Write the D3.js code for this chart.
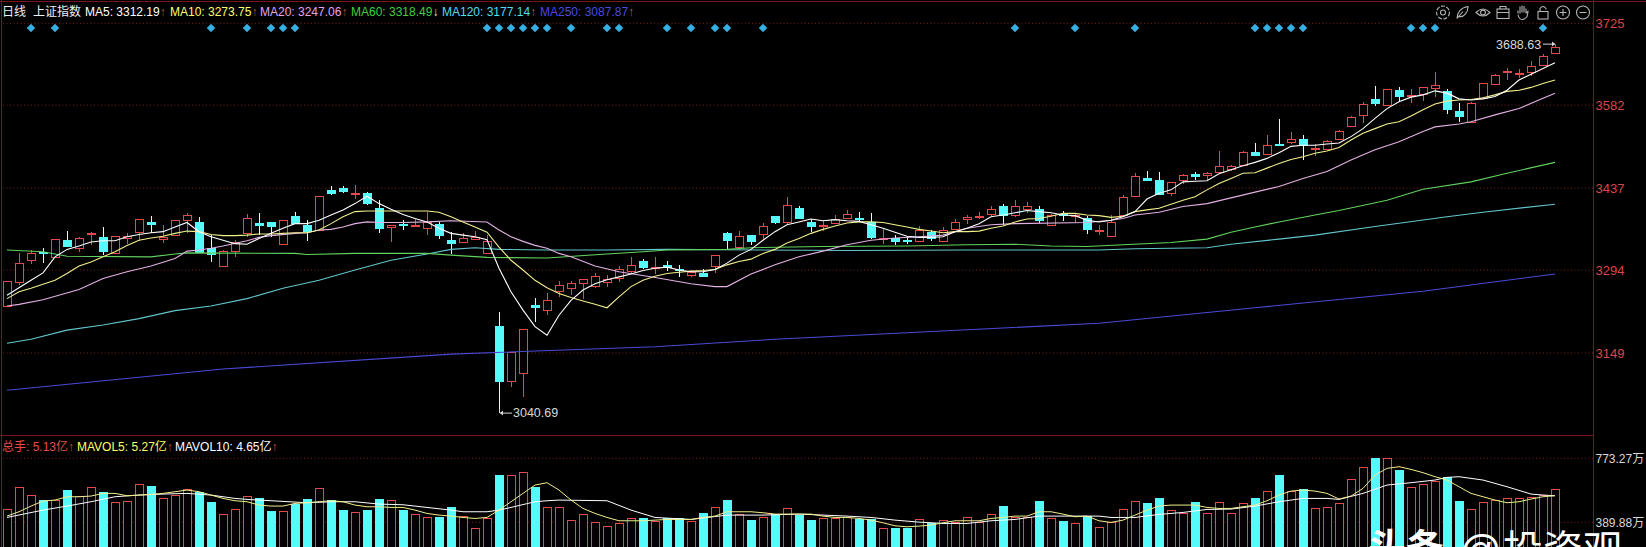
<!DOCTYPE html>
<html><head><meta charset="utf-8">
<script src="https://cdn.jsdelivr.net/npm/d3@7/dist/d3.min.js"></script>
<style>
html,body{margin:0;padding:0;background:#000;overflow:hidden}
svg{display:block;font-family:"Liberation Sans",Arial,"Noto Sans CJK SC",sans-serif}
</style></head><body>
<script>
// ---------- data ----------
const open=[3231,3274,3311,3326,3316,3346,3333,3358,3352,3325,
3350,3361,3378,3347,3356,3381,3377,3332,3302,3328,
3358,3376,3377,3340,3388,3373,3364,3434,3438,3428,
3428,3403,3368,3374,3371,3367,3374,3346,3343,3348,
3323,3196,3099,3114,3232,3224,3256,3263,3271,3266,
3274,3280,3293,3310,3298,3302,3295,3285,3288,3300,
3358,3334,3355,3357,3388,3378,3402,3377,3370,3376,
3384,3384,3377,3348,3350,3346,3344,3361,3344,3366,
3382,3387,3392,3405,3390,3400,3400,3372,3391,3389,
3385,3363,3353,3390,3424,3455,3452,3427,3451,3461,
3460,3464,3470,3479,3501,3496,3514,3516,3522,3505,
3505,3523,3547,3565,3592,3582,3608,3598,3600,3612,
3607,3572,3552,3593,3620,3641,3637,3641,3653,3672];
const high=[3274,3324,3329,3332,3348,3362,3352,3360,3370,3354,
3359,3383,3389,3372,3382,3393,3387,3355,3329,3346,
3391,3394,3378,3382,3396,3381,3423,3440,3440,3442,
3430,3416,3372,3382,3384,3396,3378,3361,3358,3362,
3355,3221,3150,3191,3245,3253,3275,3275,3278,3289,
3285,3301,3316,3314,3316,3309,3303,3294,3295,3320,
3360,3362,3356,3376,3388,3421,3406,3383,3380,3390,
3398,3395,3393,3365,3355,3353,3371,3364,3369,3383,
3390,3395,3405,3409,3417,3412,3405,3391,3397,3393,
3388,3373,3390,3425,3463,3467,3465,3448,3462,3465,
3466,3502,3478,3502,3516,3530,3558,3535,3530,3514,
3521,3539,3563,3588,3615,3611,3613,3610,3614,3640,
3610,3585,3587,3620,3637,3647,3646,3659,3672,3688.63];
const low=[3231,3268,3304,3307,3316,3334,3326,3337,3320,3325,
3340,3345,3358,3341,3355,3358,3323,3308,3301,3316,
3352,3355,3351,3337,3374,3344,3362,3425,3428,3418,
3407,3358,3343,3364,3369,3355,3348,3322,3342,3346,
3322,3044,3089,3073,3204,3216,3247,3250,3243,3262,
3265,3273,3288,3295,3287,3293,3282,3281,3281,3289,
3331,3331,3338,3348,3374,3373,3383,3360,3363,3374,
3383,3377,3349,3339,3337,3339,3343,3345,3343,3364,
3374,3383,3388,3372,3387,3393,3376,3371,3380,3376,
3357,3355,3352,3388,3423,3449,3425,3424,3444,3451,
3451,3462,3467,3477,3493,3495,3511,3515,3486,3493,
3504,3521,3546,3551,3581,3580,3588,3585,3589,3597,
3566,3553,3551,3592,3618,3626,3629,3633,3651,3671];
const close=[3274,3307,3324,3324,3348,3336,3350,3359,3328,3354,
3354,3383,3375,3351,3382,3390,3324,3321,3328,3343,
3384,3373,3370,3382,3376,3362,3423,3429,3433,3429,
3411,3368,3372,3372,3372,3378,3355,3340,3350,3352,
3344,3100,3150,3191,3229,3242,3267,3271,3278,3284,
3279,3295,3303,3299,3299,3298,3294,3291,3282,3320,
3345,3354,3345,3371,3378,3407,3384,3370,3372,3383,
3391,3383,3351,3350,3344,3345,3364,3351,3364,3378,
3386,3388,3401,3390,3405,3405,3380,3390,3390,3390,
3366,3364,3378,3422,3459,3451,3427,3447,3460,3458,
3464,3475,3476,3501,3495,3512,3512,3522,3511,3507,
3519,3537,3562,3584,3585,3610,3597,3599,3613,3618,
3576,3564,3586,3620,3635,3642,3638,3651,3668,3683];
const ma5=[3250,3263,3276,3289,3317,3330,3336,3343,3345,3345,
3352,3356,3359,3361,3369,3377,3361,3352,3346,3340,
3339,3349,3358,3367,3375,3375,3381,3390,3399,3410,
3423,3410,3400,3391,3384,3378,3367,3358,3355,3352,
3347,3297,3256,3224,3195,3180,3215,3241,3259,3270,
3277,3282,3287,3293,3297,3299,3294,3291,3291,3295,
3306,3320,3330,3346,3361,3373,3378,3383,3380,3382,
3380,3379,3373,3367,3360,3353,3351,3351,3352,3361,
3367,3375,3387,3390,3394,3398,3396,3394,3390,3389,
3381,3378,3381,3387,3396,3418,3428,3434,3448,3449,
3450,3462,3469,3476,3482,3489,3499,3510,3512,3512,
3514,3516,3527,3541,3559,3576,3588,3596,3600,3607,
3603,3593,3591,3593,3597,3608,3626,3636,3646,3656];
const ma10=[3244,3256,3262,3269,3276,3288,3301,3308,3317,3326,
3337,3346,3350,3353,3358,3362,3361,3356,3354,3354,
3355,3357,3357,3358,3359,3359,3364,3375,3387,3396,
3397,3397,3397,3397,3397,3397,3395,3387,3378,3369,
3360,3334,3311,3294,3276,3263,3253,3246,3240,3234,
3228,3247,3265,3276,3283,3288,3290,3292,3293,3295,
3303,3309,3313,3323,3330,3341,3349,3358,3365,3371,
3376,3378,3378,3377,3373,3369,3365,3362,3359,3361,
3361,3362,3367,3371,3378,3383,3384,3388,3393,3393,
3390,3389,3386,3388,3396,3399,3402,3409,3416,3422,
3434,3445,3454,3463,3464,3472,3480,3487,3492,3498,
3502,3508,3521,3533,3541,3549,3553,3563,3574,3584,
3589,3591,3592,3595,3600,3606,3608,3613,3620,3626];
const ma20Days=[0,1,3,6,8,10,12,14,15,16,17,18,20,21,22,24,25,26,27,28,29,30,31,33,35,37,40,41,42,43,44,45,46,47,49,51,54,57,59,60,62,64,66,68,70,72,74,76,78,80,82,84,90,92,93,94,96,98,100,102,104,106,108,110,112,114,116,118,119,121,122,124,126,128,129];
const ma20=[3231,3234,3242,3260,3279,3291,3301,3314,3327,3329,3332,3336,3345,3351,3354,3358,3359,3364,3365,3369,3375,3378,3377,3377,3378,3380,3378,3364,3352,3344,3337,3332,3323,3317,3301,3291,3281,3270,3265,3265,3287,3303,3317,3327,3338,3346,3350,3352,3355,3367,3373,3375,3377,3381,3384,3390,3395,3405,3410,3420,3430,3440,3454,3466,3486,3504,3518,3536,3544,3549,3553,3565,3576,3594,3603];
const ma60Days=[0,3,4,5,12,14,15,24,25,29,35,37,40,45,50,53,55,60,62,68,75,80,84,87,90,93,97,100,102,104,106,109,111,115,118,122,125,129];
const ma60=[3329,3326,3322,3318,3317,3322,3324,3323,3321,3323,3323,3320,3316,3315,3322,3326,3329,3330,3333,3335,3336,3338,3339,3336,3335,3338,3342,3348,3360,3369,3378,3390,3398,3416,3435,3448,3463,3482];
const ma120Days=[0,2,5,8,11,14,17,20,23,26,29,32,35,37,39,41,45,50,55,70,80,91,94,100,102,106,109,114,120,123,129];
const ma120=[3166,3173,3189,3198,3209,3223,3231,3244,3262,3276,3294,3311,3322,3330,3333,3330,3329,3329,3330,3328,3329,3329,3331,3333,3339,3348,3355,3370,3387,3395,3409];
const ma250Days=[0,18,37,54,64,91,104,118,129];
const ma250=[3084,3121,3147,3160,3173,3201,3228,3257,3287];
const volume=[467,603,553,523,523,583,547,599,573,509,
517,619,607,533,553,587,573,509,437,467,
547,533,457,457,499,527,593,523,463,449,
463,527,523,463,437,423,419,483,427,357,
413,673,673,693,603,483,483,403,439,389,
365,385,413,417,399,413,417,397,443,483,
523,437,403,419,439,475,433,403,413,413,
419,407,407,353,353,353,407,383,403,393,
419,393,437,489,419,419,517,413,397,383,
427,359,393,469,515,503,533,463,443,509,
443,509,443,503,533,575,673,579,587,473,
483,503,647,723,777,773,703,599,617,639,
663,517,467,509,523,537,533,543,553,587];
const mavol5=[427,453,487,517,523,543,543,547,563,563,
549,553,557,563,573,583,573,553,533,519,
513,493,487,487,503,507,513,519,513,493,
483,483,479,479,463,443,433,427,419,413,
419,463,513,563,613,627,583,523,473,443,
419,399,399,399,403,407,407,407,419,427,
453,453,453,447,439,439,439,439,427,419,
419,413,403,387,369,363,367,373,387,399,
399,399,413,419,427,427,453,453,439,423,
427,399,389,403,433,463,487,493,493,493,
479,473,473,483,493,519,553,577,583,577,
563,529,547,593,673,713,723,707,687,663,
643,603,563,543,523,507,513,529,543,549];
const mavol10Days=[0,3,5,7,9,11,13,15,17,19,20,22,25,27,29,31,33,35,37,38,40,41,42,44,45,46,50,52,54,57,60,63,66,70,72,74,76,78,80,82,84,86,90,91,92,94,96,98,100,102,104,106,108,110,111,113,115,117,119,120,121,123,125,127,128,129];
const mavol10=[419,463,487,513,543,553,559,563,553,533,527,519,507,513,513,499,495,479,463,453,453,463,479,513,519,523,519,463,419,407,433,433,439,427,419,403,391,383,383,399,407,427,427,427,419,419,437,449,467,469,487,513,533,533,527,563,613,627,643,659,663,643,603,559,553,549];
const signalDays=[2,4,17,20,22,23,24,40,41,42,43,44,45,47,50,51,55,57,59,60,63,84,89,94,104,105,106,107,108,117,118,119,128];
const priceTicks=[3725,3582,3437,3294,3149];
const volumeTicks=[773.27,389.88];
const volumeTickLabels=["773.27万","389.88万"];
const headerItems=[["MA5: 3312.19","↑","#ffffff","#c8503c"],["MA10: 3273.75","↑","#ffff66","#c8503c"],["MA20: 3247.06","↑","#e9a2f0","#c8503c"],["MA60: 3318.49","↓","#3fd03f","#d8f0d8"],["MA120: 3177.14","↑","#50dcec","#c8503c"],["MA250: 3087.87","↑","#4a4ae0","#c8503c"]];
const volumeHeaderItems=[["总手: 5.13亿","↑","#e84c4c","#c8503c"],["MAVOL5: 5.27亿","↑","#ffff66","#c8503c"],["MAVOL10: 4.65亿","↑","#ffffff","#c8503c"]];

// ---------- layout ----------
const W=1646,H=547,RED="#e8474c",CYAN="#55fbfb",FRAME="#7d1518";
const AX=1593.5;
const svg=d3.select("body").append("svg").attr("width",W).attr("height",H).style("background","#000");
const x=d3.scaleLinear().domain([0,129]).range([7,1555]);
const y=d3.scaleLinear().domain([3725,3149]).range([23.3,353]);
const yV=d3.scaleLinear().domain([389.88,773.27]).range([522.3,458.3]);
const days=d3.range(open.length);

// frame
const frame=svg.append("g").attr("stroke",FRAME).attr("stroke-width",1).attr("shape-rendering","crispEdges");
[[0,1,W,1],[1,0,1,H],[AX,0,AX,H],[0,435,AX,435]].forEach(l=>frame.append("line").attr("x1",l[0]).attr("y1",l[1]).attr("x2",l[2]).attr("y2",l[3]));

// grid + axes
function gridAxis(scale,ticks,fmt,color,size,gridColor){
  const g=svg.append("g").attr("transform",`translate(${AX},0)`).call(d3.axisRight(scale).tickValues(ticks).tickFormat(fmt).tickSize(0).tickPadding(2));
  g.select(".domain").remove();
  g.selectAll("text").attr("fill",color).attr("font-size",size).attr("font-family",'"Liberation Sans","Noto Sans CJK SC",sans-serif');
  svg.append("g").selectAll("line").data(ticks).join("line")
    .attr("x1",3).attr("x2",AX).attr("y1",d=>scale(d)).attr("y2",d=>scale(d))
    .attr("stroke",gridColor).attr("stroke-dasharray","1 2.5");
}
gridAxis(y,priceTicks,d3.format("d"),"#d8464c",13,"#7a1e1e");
gridAxis(yV,volumeTicks,(d,i)=>volumeTickLabels[i],"#d8d8d8",12,"#7a1e1e");

// headers
function header(items,xs,yy){
  items.forEach((it,i)=>{
    const t=svg.append("text").attr("x",xs[i]).attr("y",yy).attr("font-size",12).attr("fill",it[2]).text(it[0]);
    t.append("tspan").attr("fill",it[3]).text(it[1]);
  });
}
svg.append("text").attr("x",2).attr("y",16).attr("font-size",12).attr("fill","#f0f0f0").attr("font-family","Noto Sans CJK SC").text("日线");
svg.append("text").attr("x",33).attr("y",16).attr("font-size",12).attr("fill","#f0f0f0").attr("font-family","Noto Sans CJK SC").text("上证指数");
header(headerItems,[85,170,260,351,442,540],16);
header(volumeHeaderItems,[2,77,175],451);

// signal diamonds
svg.append("g").selectAll("path").data(signalDays).join("path")
  .attr("d",d3.symbol(d3.symbolSquare,36)())
  .attr("transform",d=>`translate(${x(d)},28) rotate(45)`)
  .attr("fill","#36aee0");

// volume bars
const vg=svg.append("g").attr("shape-rendering","crispEdges");
vg.selectAll("rect").data(days).join("rect")
  .attr("x",d=>Math.round(x(d)-4)+.5).attr("width",8)
  .attr("y",d=>Math.round(yV(volume[d]))+.5).attr("height",d=>yV(0)-yV(volume[d]))
  .attr("fill",d=>close[d]>=open[d]?"#000":CYAN)
  .attr("stroke",d=>close[d]>=open[d]?RED:CYAN);
const lineV=(xs,ys)=>d3.line().x((d,i)=>x(xs?xs[i]:i)).y(d=>yV(d))(ys);
svg.append("path").attr("d",lineV(mavol10Days,mavol10)).attr("fill","none").attr("stroke","#ffffff");
svg.append("path").attr("d",lineV(null,mavol5)).attr("fill","none").attr("stroke","#f2ee8c");

// candles
const cg=svg.append("g").attr("shape-rendering","crispEdges");
const c=cg.selectAll("g").data(days).join("g");
c.append("line").attr("x1",d=>Math.round(x(d))+.5).attr("x2",d=>Math.round(x(d))+.5)
  .attr("y1",d=>y(high[d])).attr("y2",d=>y(low[d]))
  .attr("stroke",d=>close[d]>=open[d]?RED:"#dffcfc");
c.append("rect").attr("x",d=>Math.round(x(d)-4)+.5).attr("width",8)
  .attr("y",d=>Math.round(y(Math.max(open[d],close[d])))+.5)
  .attr("height",d=>Math.max(1,Math.round(Math.abs(y(open[d])-y(close[d])))))
  .attr("fill",d=>close[d]>=open[d]?"#000":CYAN)
  .attr("stroke",d=>close[d]>=open[d]?RED:CYAN);

// moving averages
const lineP=(xs,ys)=>d3.line().x((d,i)=>x(xs?xs[i]:i)).y(d=>y(d))(ys);
[[ma250Days,ma250,"#4a4ad8"],[ma120Days,ma120,"#62c6cc"],[ma60Days,ma60,"#62d25e"],[ma20Days,ma20,"#e3b0e3"],[null,ma10,"#f2ee8c"],[null,ma5,"#ffffff"]]
 .forEach(s=>svg.append("path").attr("d",lineP(s[0],s[1])).attr("fill","none").attr("stroke",s[2]).attr("stroke-width",1.1));

// extreme labels
const LABEL="#d8d8d8";
function arrowH(x1,x2,yy){
  svg.append("line").attr("x1",x1).attr("x2",x2).attr("y1",yy).attr("y2",yy).attr("stroke",LABEL);
  const dir=x2>x1?-1:1;
  svg.append("path").attr("d",`M${x2},${yy}l${dir*3},-2.5v5z`).attr("fill",LABEL);
}
const hiY=y(high[129]);
svg.append("text").attr("x",1496).attr("y",hiY+4.5).attr("font-size",12.5).attr("fill",LABEL).text("3688.63");
arrowH(1543,1555,hiY);
svg.append("text").attr("x",513).attr("y",417).attr("font-size",12.5).attr("fill",LABEL).text("3040.69");
arrowH(512,x(41)+1,y(low[41]));
svg.append("line").attr("x1",x(41)+.5).attr("x2",x(41)+.5).attr("y1",y(low[41])).attr("y2",y(low[41])-4).attr("stroke",LABEL);

// toolbar icons
const ic=svg.append("g").attr("fill","none").attr("stroke","#b4b4b4").attr("stroke-width",1.1);
const at=(g,cx)=>g.attr("transform",`translate(${cx},12.5)`);
let g=at(ic.append("g"),1443); g.append("path").attr("d",d3.symbol(d3.symbolCircle,130)()).attr("stroke-dasharray","4 1.5"); g.append("circle").attr("r",2.5);
g=at(ic.append("g"),1462); g.append("path").attr("d","M-5,6C-5,0 -1,-5 6,-6C6,0 2,5 -3,4M-5,6L1,-1");
g=at(ic.append("g"),1483); g.append("path").attr("d","M-7,0Q0,-7 7,0Q0,7 -7,0Z"); g.append("circle").attr("r",2.4);
g=at(ic.append("g"),1503); g.append("rect").attr("x",-6).attr("y",-3.5).attr("width",12).attr("height",9.5); g.append("path").attr("d","M-3,-3.5V-6H3V-3.5M-6,0H6");
g=at(ic.append("g"),1523); g.append("path").attr("d","M-5,1V-2M-3,1V-6M-1,0V-7M1,0V-6.5M3,1V-4M3,0L5,-1L4,4Q2,7 -1,7Q-4,7 -5,2");
g=at(ic.append("g"),1543); g.append("rect").attr("x",-5).attr("y",-1).attr("width",10).attr("height",7.5); g.append("path").attr("d","M-3,-1V-4Q0,-8 3,-4V-3");
g=at(ic.append("g"),1563); g.append("circle").attr("r",6.5); g.append("path").attr("d","M-3.5,0H3.5M0,-3.5V3.5");
g=at(ic.append("g"),1583); g.append("circle").attr("r",6.5); g.append("path").attr("d","M-3.5,0H3.5");

// watermark, clipped by the bottom edge like in the source
svg.append("text").attr("x",1368).attr("y",561).attr("font-size",38).attr("fill","#fff").attr("font-family","Noto Sans CJK SC").attr("font-weight",700).text("头条");
svg.append("text").attr("x",1459).attr("y",565).attr("font-size",42).attr("fill","#fff").attr("font-family","Liberation Sans").text("@");
svg.append("text").attr("x",1503).attr("y",564).attr("font-size",40).attr("fill","#fff").attr("font-family","Noto Sans CJK SC").text("投资观");
</script>
</body></html>
